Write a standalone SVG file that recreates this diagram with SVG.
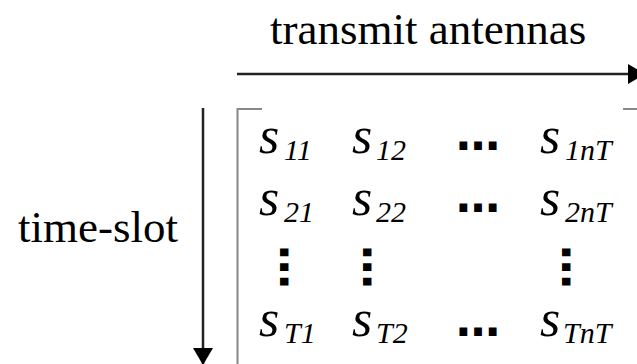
<svg xmlns="http://www.w3.org/2000/svg" width="637" height="364" viewBox="0 0 637 364">
  <style>
    .label { font-family: "Liberation Serif", "Times New Roman", serif; font-size: 45px; fill: #000; }
    .sym { font-family: "Liberation Serif", "Times New Roman", serif; font-style: italic; font-size: 52px; fill: #000; }
    .sub { font-family: "Liberation Serif", "Times New Roman", serif; font-style: italic; font-size: 30px; fill: #000; }
    .dots { font-family: "DejaVu Sans", sans-serif; font-weight: bold; font-size: 44px; fill: #000; text-anchor: middle; }
    .axis { stroke: #222; stroke-width: 2.5; fill: none; }
    .bracket { stroke: #888; stroke-width: 2; fill: none; }
  </style>
  <defs>
    <marker id="head" markerUnits="userSpaceOnUse" markerWidth="17" markerHeight="20" refX="17" refY="10" orient="auto" viewBox="0 0 17 20">
      <path d="M0,0 L17,10 L0,20 Z" fill="#000"/>
    </marker>
  </defs>
  <rect width="637" height="364" fill="#fff"/>

  <!-- axis labels -->
  <g id="label-transmit">
    <text class="label" x="270" y="44">transmit antennas</text>
  </g>
  <g id="label-time">
    <text class="label" x="18" y="242">time-slot</text>
  </g>

  <!-- axis arrows -->
  <g id="connectors">
    <line class="axis" x1="237" y1="74" x2="645" y2="74" marker-end="url(#head)"/>
    <line class="axis" x1="203" y1="108" x2="203" y2="365" marker-end="url(#head)"/>
  </g>

  <!-- matrix brackets -->
  <g id="brackets">
    <path class="bracket" d="M262,109 H237.5 V370"/>
    <path class="bracket" d="M623,109 H640"/>
  </g>

  <!-- matrix entries -->
  <g id="matrix">
    <!-- row 1 -->
    <text class="sym" x="259" y="153">s</text>
    <text class="sub" x="284" y="160">11</text>
    <text class="sym" x="352" y="153">s</text>
    <text class="sub" x="376" y="160">12</text>
    <text class="dots" x="478" y="150">…</text>
    <text class="sym" x="540" y="153">s</text>
    <text class="sub" x="565" y="160">1nT</text>

    <!-- row 2 -->
    <text class="sym" x="259" y="215">s</text>
    <text class="sub" x="284" y="222">21</text>
    <text class="sym" x="352" y="215">s</text>
    <text class="sub" x="376" y="222">22</text>
    <text class="dots" x="478" y="212">…</text>
    <text class="sym" x="540" y="215">s</text>
    <text class="sub" x="565" y="222">2nT</text>

    <!-- vertical ellipses -->
    <text class="dots" transform="translate(283,267) rotate(90)" x="0" y="3">…</text>
    <text class="dots" transform="translate(366,267) rotate(90)" x="0" y="3">…</text>
    <text class="dots" transform="translate(565,267) rotate(90)" x="0" y="3">…</text>

    <!-- row T -->
    <text class="sym" x="259" y="336">s</text>
    <text class="sub" x="284" y="343">T1</text>
    <text class="sym" x="352" y="336">s</text>
    <text class="sub" x="376" y="343">T2</text>
    <text class="dots" x="478" y="336">…</text>
    <text class="sym" x="540" y="336">s</text>
    <text class="sub" x="563" y="343">TnT</text>
  </g>
</svg>
